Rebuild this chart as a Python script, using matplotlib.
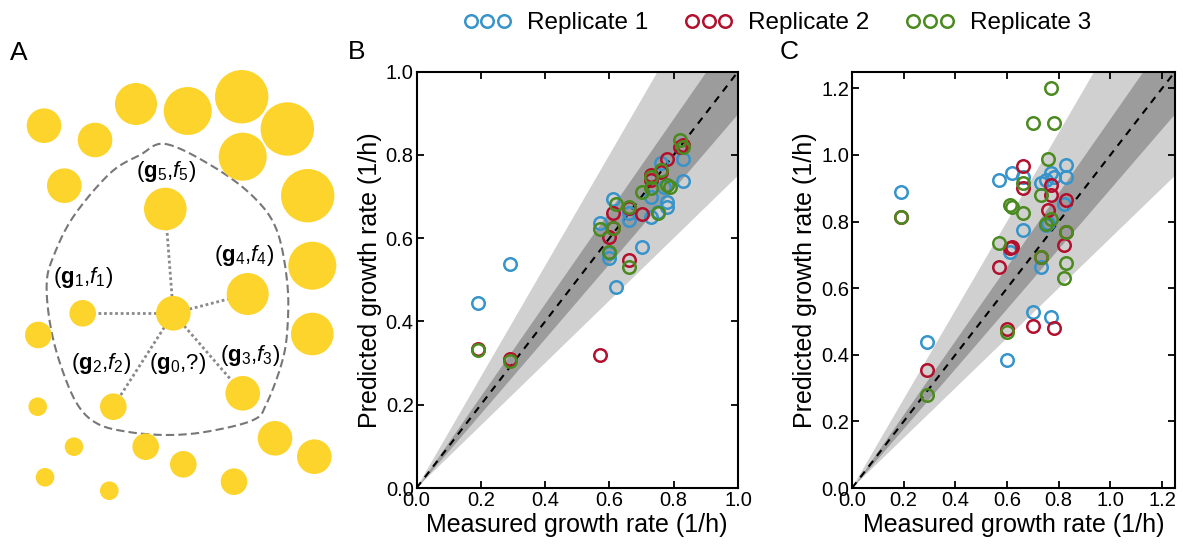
import numpy as np
import matplotlib
matplotlib.use("Agg")
import matplotlib.pyplot as plt
from matplotlib.patches import Circle
from matplotlib.lines import Line2D

plt.rcParams['font.family'] = ['Liberation Sans', 'DejaVu Sans']
plt.rcParams['mathtext.fontset'] = 'custom'
plt.rcParams['mathtext.rm'] = 'Liberation Sans'
plt.rcParams['mathtext.it'] = 'Liberation Sans:italic'
plt.rcParams['mathtext.bf'] = 'Liberation Sans:bold'

# --------------------------------
# Panel B data (measured vs predicted)
# --------------------------------
b_meas_1 = [0.19, 0.29, 0.62, 0.70, 0.60, 0.60, 0.57, 0.61, 0.66, 0.66, 0.73, 0.75, 0.78, 0.78, 0.73, 0.76, 0.83, 0.83, 0.77]
b_pred_1 = [0.445, 0.538, 0.482, 0.578, 0.552, 0.564, 0.636, 0.694, 0.644, 0.660, 0.652, 0.664, 0.676, 0.688, 0.700, 0.780, 0.790, 0.738, 0.724]
b_meas_2 = [0.19, 0.29, 0.57, 0.66, 0.61, 0.60, 0.61, 0.66, 0.70, 0.73, 0.73, 0.76, 0.78, 0.82, 0.83]
b_pred_2 = [0.334, 0.310, 0.320, 0.548, 0.660, 0.604, 0.624, 0.672, 0.658, 0.752, 0.740, 0.760, 0.790, 0.820, 0.825]
b_meas_3 = [0.19, 0.29, 0.57, 0.60, 0.61, 0.62, 0.66, 0.66, 0.70, 0.73, 0.75, 0.76, 0.78, 0.79, 0.82, 0.83, 0.73]
b_pred_3 = [0.332, 0.306, 0.622, 0.568, 0.624, 0.682, 0.532, 0.676, 0.710, 0.720, 0.660, 0.764, 0.728, 0.722, 0.836, 0.818, 0.748]

# --------------------------------
# Panel C data
# --------------------------------
c_meas_1 = [0.19, 0.29, 0.60, 0.70, 0.77, 0.73, 0.61, 0.66, 0.57, 0.62, 0.66, 0.73, 0.75, 0.77, 0.78, 0.83, 0.83, 0.82, 0.76, 0.75]
c_pred_1 = [0.890, 0.437, 0.385, 0.528, 0.512, 0.663, 0.710, 0.775, 0.925, 0.945, 0.935, 0.917, 0.925, 0.945, 0.935, 0.970, 0.933, 0.853, 0.795, 0.790]
c_meas_2 = [0.19, 0.29, 0.60, 0.70, 0.78, 0.57, 0.61, 0.62, 0.66, 0.66, 0.73, 0.76, 0.77, 0.77, 0.83, 0.82, 0.83]
c_pred_2 = [0.815, 0.355, 0.477, 0.487, 0.480, 0.665, 0.720, 0.725, 0.967, 0.900, 0.695, 0.835, 0.910, 0.880, 0.865, 0.730, 0.770]
c_meas_3 = [0.19, 0.29, 0.60, 0.57, 0.61, 0.62, 0.66, 0.66, 0.70, 0.77, 0.78, 0.76, 0.73, 0.73, 0.75, 0.77, 0.83, 0.83, 0.82]
c_pred_3 = [0.813, 0.278, 0.467, 0.737, 0.850, 0.845, 0.825, 0.917, 1.097, 1.200, 1.095, 0.987, 0.880, 0.695, 0.792, 0.807, 0.770, 0.677, 0.630]

labels = ["Replicate 1", "Replicate 2", "Replicate 3"]
rep_colors = ["#3794CB", "#B3102E", "#4A8A1F"]

# --------------------------------
# Panel A schematic (pixel coordinates)
# --------------------------------
cell_x = [44, 95, 136, 187.7, 241.7, 287.3, 242.7, 64.3, 307.7, 165.3, 312.3, 247.7, 173.3, 82.7,
          38.3, 312.3, 242.7, 113.3, 37.7, 74, 145.7, 183.3, 275, 314.3, 45, 109.3, 234]
cell_y = [125.7, 140, 104, 111, 96.7, 129, 156.7, 185.7, 195.7, 209, 265.7, 294, 313.3, 313.3,
          335, 334, 393.3, 406.7, 406.7, 446.7, 446.7, 464.3, 438.3, 456.7, 477.3, 490.7, 481.7]
cell_r = [17.3, 17.3, 21, 24, 26.7, 26.7, 24, 17.3, 26.7, 21.3, 24, 21, 17.3, 13.3,
          13.3, 21.3, 17.3, 13.3, 9.3, 9.3, 13.3, 13.3, 17.3, 17.3, 9.3, 9.3, 13.3]
center_idx = 12
neighbor_idx = [13, 17, 16, 11, 9]   # g1..g5

border_x = [165.7, 213.3, 253.3, 276.7, 287.3, 287.3, 281.7, 266.7, 253.3, 206.7, 166.7,
            126.7, 96.7, 76.7, 60, 50, 46.7, 53.3, 73.3, 110, 140]
border_y = [144, 166.7, 196.7, 230, 283.3, 330, 363.3, 403.3, 420, 431.7, 435,
            431.7, 423.3, 403.3, 363.3, 323.3, 283.3, 256.7, 216.7, 173.3, 155]

node_text = [r"$(\mathbf{g}_5{,}f_5)$", r"$(\mathbf{g}_4{,}f_4)$", r"$(\mathbf{g}_1{,}f_1)$",
             r"$(\mathbf{g}_2{,}f_2)$", r"$(\mathbf{g}_0{,}?)$", r"$(\mathbf{g}_3{,}f_3)$"]
text_x = [165.7, 244, 83, 101, 177.7, 250]
text_y = [171.7, 255, 278, 363, 363, 355]


def closed_spline(px, py, n=20):
    # Catmull-Rom through the border points, closed loop
    p = np.column_stack([px, py])
    m = len(p)
    out = []
    for i in range(m):
        p0, p1, p2, p3 = p[(i - 1) % m], p[i], p[(i + 1) % m], p[(i + 2) % m]
        t = np.linspace(0, 1, n, endpoint=False)[:, None]
        seg = 0.5 * ((2 * p1) + (-p0 + p2) * t + (2 * p0 - 5 * p1 + 4 * p2 - p3) * t**2
                     + (-p0 + 3 * p1 - 3 * p2 + p3) * t**3)
        out.append(seg)
    out = np.vstack(out)
    out = np.vstack([out, out[:1]])
    return out[:, 0], out[:, 1]


W, H = 1183, 554
fig = plt.figure(figsize=(W / 100, H / 100), dpi=100)

# ---- Panel A
axA = fig.add_axes([0, 1 - 510 / H, 350 / W, 480 / H])
axA.set_xlim(0, 350)
axA.set_ylim(510, 30)
axA.axis('off')
for x, y, r in zip(cell_x, cell_y, cell_r):
    axA.add_patch(Circle((x, y), r, color="#FDD42B", lw=0, zorder=3))
bx, by = closed_spline(border_x, border_y)
axA.plot(bx, by, color="#777777", lw=1.5, ls=(0, (4, 2)), zorder=2)
for j in neighbor_idx:
    axA.plot([cell_x[center_idx], cell_x[j]], [cell_y[center_idx], cell_y[j]],
             color="#8a8a8a", lw=2, ls=(0, (1, 1)), zorder=2)
for t, x, y in zip(node_text, text_x, text_y):
    axA.text(x, y, t, fontsize=16, ha='center', va='center', zorder=4)


def scatter_panel(ax, lim, ticks, data):
    xs = np.array([0, lim])
    ax.fill_between(xs, xs * 0.75, xs / 0.75, color="#d0d0d0", lw=0, zorder=0)
    ax.fill_between(xs, xs * 0.9, xs / 0.9, color="#9c9c9c", lw=0, zorder=0.5)
    ax.plot(xs, xs, color="black", lw=1.5, ls=(0, (3.5, 3)), zorder=1)
    for (mx, py), c in zip(data, rep_colors):
        ax.plot(mx, py, ls='none', marker='o', ms=9, mfc='none', mec=c, mew=1.8, zorder=3)
    ax.set_xlim(0, lim)
    ax.set_ylim(0, lim)
    ax.set_xticks(ticks)
    ax.set_yticks(ticks)
    ax.set_xticklabels([f"{t:.1f}" for t in ticks])
    ax.set_yticklabels([f"{t:.1f}" for t in ticks])
    ax.tick_params(direction='in', top=True, right=True, length=5, width=1.3,
                   labelsize=14.5, pad=2)
    for s in ax.spines.values():
        s.set_linewidth(1.5)
    ax.set_xlabel("Measured growth rate (1/h)", fontsize=18, labelpad=2)
    ax.set_ylabel("Predicted growth rate (1/h)", fontsize=18, labelpad=3)


axB = fig.add_axes([416.5 / W, 1 - 488 / H, 321.5 / W, 416.3 / H])
scatter_panel(axB, 1.0, np.arange(0, 1.01, 0.2),
              [(b_meas_1, b_pred_1), (b_meas_2, b_pred_2), (b_meas_3, b_pred_3)])

axC = fig.add_axes([852 / W, 1 - 488 / H, 323 / W, 416.3 / H])
scatter_panel(axC, 1.25, np.arange(0, 1.21, 0.2),
              [(c_meas_1, c_pred_1), (c_meas_2, c_pred_2), (c_meas_3, c_pred_3)])

# panel letters
fig.text(10 / W, 1 - 60 / H, "A", fontsize=19, va='baseline')
fig.text(348 / W, 1 - 59 / H, "B", fontsize=19, va='baseline')
fig.text(780 / W, 1 - 59 / H, "C", fontsize=19, va='baseline')

handles = [Line2D([], [], ls='none', marker='o', ms=9, mfc='none', mec=c, mew=1.8)
           for c in rep_colors]
fig.legend(handles, labels, loc='center', bbox_to_anchor=(0.657, 0.958), ncol=3,
           frameon=False, numpoints=3, handlelength=1.96, handletextpad=0.66,
           columnspacing=1.5, fontsize=17.5)

fig.savefig("out.png", dpi=100)
